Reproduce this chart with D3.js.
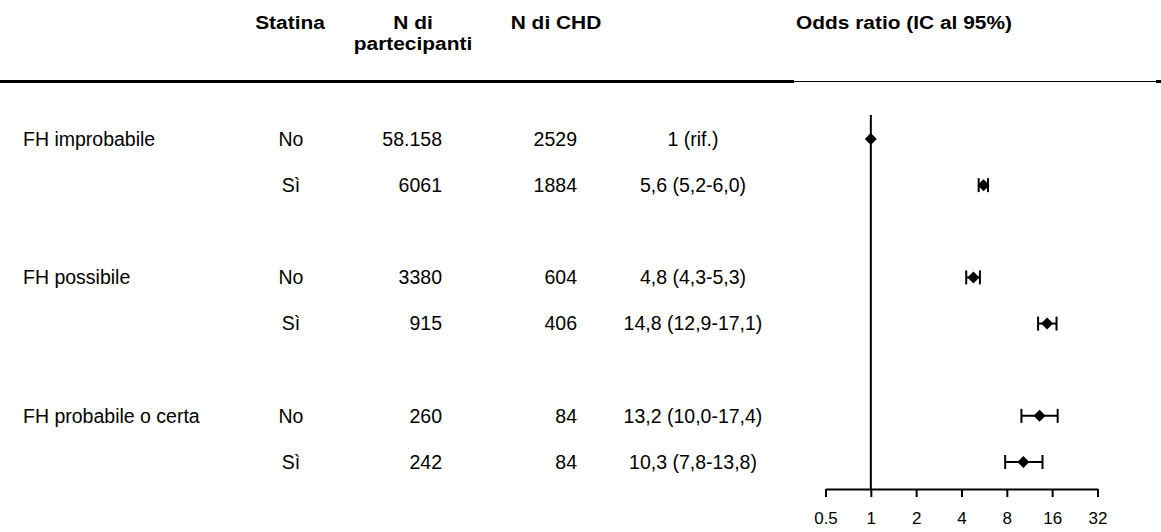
<!DOCTYPE html>
<html>
<head>
<meta charset="utf-8">
<script src="https://cdn.jsdelivr.net/npm/d3@7"></script>
<style>
  html, body { margin: 0; padding: 0; background: #fff; }
  svg { display: block; font-family: "Liberation Sans", Arial, sans-serif; }
  .hdr { font-weight: bold; }
</style>
</head>
<body>
<svg id="chart" width="1161" height="532"></svg>
<script>
const groups = ["FH improbabile", "FH possibile", "FH probabile o certa"];
const rowGroup = [0, 0, 1, 1, 2, 2];
const statina = ["No", "Sì", "No", "Sì", "No", "Sì"];
const nPartecipanti = ["58.158", "6061", "3380", "915", "260", "242"];
const nCHD = ["2529", "1884", "604", "406", "84", "84"];
const orLabels = ["1 (rif.)", "5,6 (5,2-6,0)", "4,8 (4,3-5,3)", "14,8 (12,9-17,1)", "13,2 (10,0-17,4)", "10,3 (7,8-13,8)"];
const orValue = [1, 5.6, 4.8, 14.8, 13.2, 10.3];
const ciLow = [null, 5.2, 4.3, 12.9, 10.0, 7.8];
const ciHigh = [null, 6.0, 5.3, 17.1, 17.4, 13.8];
const tickValues = [0.5, 1, 2, 4, 8, 16, 32];
const tickLabels = ["0.5", "1", "2", "4", "8", "16", "32"];
const headers = [
  { lines: ["Statina"], col: "statina" },
  { lines: ["N di", "partecipanti"], col: "npart" },
  { lines: ["N di CHD"], col: "nchd" },
  { lines: ["Odds ratio (IC al 95%)"], col: "or" }
];

const svg = d3.select("#chart");
const fs = 19.5;

// row slot: group*3 + position within group
const slot = statina.map((s, i) => rowGroup[i] * 3 + (i % 2));
const y = d3.scaleLinear().domain([0, 7]).range([139, 462]);
const x = d3.scaleLog().base(2).domain([0.5, 32]).range([825.5, 1097.5]);

const colX = { label: 23, statina: 291, npart: 442, nchd: 577, or: 693 };
const hdrX = { statina: 290, npart: 413, nchd: 556, or: 904 };

// headers
headers.forEach(h => {
  const t = svg.append("text").attr("class", "hdr")
    .attr("x", hdrX[h.col]).attr("y", 29)
    .attr("text-anchor", "middle").attr("font-size", 19).attr("fill", "#000")
    .attr("transform", `translate(${hdrX[h.col]},0) scale(1.1,1) translate(${-hdrX[h.col]},0)`);
  h.lines.forEach((l, k) => t.append("tspan").attr("x", hdrX[h.col]).attr("dy", k === 0 ? 0 : 21).text(l));
});

// header rule
svg.append("line").attr("x1", 0).attr("x2", 794).attr("y1", 81.5).attr("y2", 81.5)
  .attr("stroke", "#000").attr("stroke-width", 3);
svg.append("line").attr("x1", 794).attr("x2", 1161).attr("y1", 81.5).attr("y2", 81.5)
  .attr("stroke", "#000").attr("stroke-width", 1);
svg.append("line").attr("x1", 1156).attr("x2", 1161).attr("y1", 81.5).attr("y2", 81.5)
  .attr("stroke", "#000").attr("stroke-width", 3);

// group labels
svg.selectAll("text.grp").data(groups).join("text").attr("class", "grp")
  .attr("x", colX.label).attr("y", (d, i) => y(i * 3)).attr("dy", "0.35em")
  .attr("font-size", fs).text(d => d);

const rows = statina.map((s, i) => i);
const addCol = (cls, arr, xpos, anchor) =>
  svg.selectAll("text." + cls).data(rows).join("text").attr("class", cls)
    .attr("x", xpos).attr("y", i => y(slot[i])).attr("dy", "0.35em")
    .attr("text-anchor", anchor).attr("font-size", fs).text(i => arr[i]);
addCol("st", statina, colX.statina, "middle");
addCol("np", nPartecipanti, colX.npart, "end");
addCol("nc", nCHD, colX.nchd, "end");
addCol("orl", orLabels, colX.or, "middle");

// reference line at OR = 1
svg.append("line").attr("x1", x(1)).attr("x2", x(1)).attr("y1", 115).attr("y2", 489)
  .attr("stroke", "#000").attr("stroke-width", 2);

// axis
const axis = d3.axisBottom(x).tickValues(tickValues).tickFormat((d, i) => tickLabels[i])
  .tickSizeInner(8).tickSizeOuter(0).tickPadding(15);
const ag = svg.append("g").attr("transform", "translate(0,489)").call(axis);
ag.select(".domain").attr("stroke", "#000").attr("stroke-width", 2);
ag.selectAll(".tick line").attr("stroke", "#000").attr("stroke-width", 2);
ag.selectAll(".tick text").attr("font-size", 17).attr("font-family", "Liberation Sans, Arial, sans-serif").attr("fill", "#000");

// CIs
const ciRows = rows.filter(i => ciLow[i] !== null);
const cg = svg.append("g").attr("stroke", "#000").attr("stroke-width", 2);
cg.selectAll("line.ci").data(ciRows).join("line").attr("class", "ci")
  .attr("x1", i => x(ciLow[i])).attr("x2", i => x(ciHigh[i]))
  .attr("y1", i => y(slot[i])).attr("y2", i => y(slot[i]));
cg.selectAll("line.capl").data(ciRows).join("line").attr("class", "capl")
  .attr("x1", i => x(ciLow[i])).attr("x2", i => x(ciLow[i]))
  .attr("y1", i => y(slot[i]) - 7).attr("y2", i => y(slot[i]) + 7);
cg.selectAll("line.caph").data(ciRows).join("line").attr("class", "caph")
  .attr("x1", i => x(ciHigh[i])).attr("x2", i => x(ciHigh[i]))
  .attr("y1", i => y(slot[i]) - 7).attr("y2", i => y(slot[i]) + 7);

// diamonds
const r = 6;
svg.selectAll("path.pt").data(rows).join("path").attr("class", "pt")
  .attr("transform", i => `translate(${x(orValue[i])},${y(slot[i])})`)
  .attr("d", `M0,${-r}L${r},0L0,${r}L${-r},0Z`).attr("fill", "#000");
</script>
</body>
</html>
